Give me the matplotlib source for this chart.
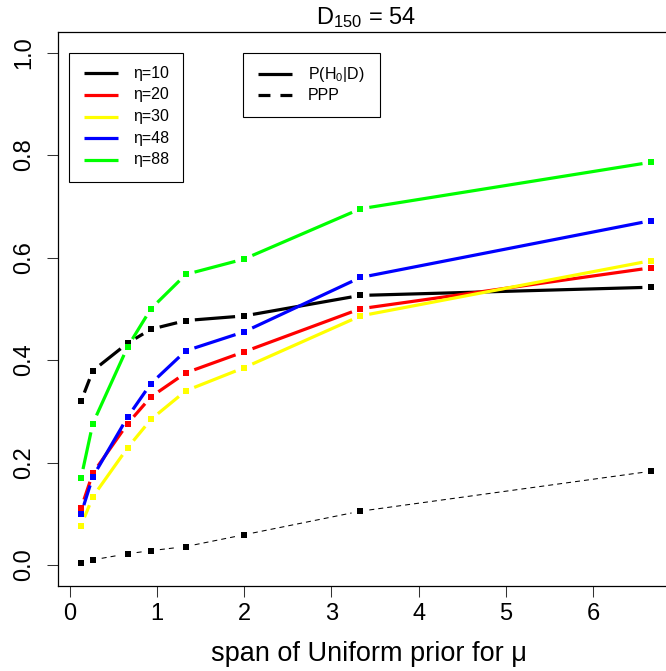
import matplotlib
matplotlib.use("Agg")
import matplotlib.pyplot as plt
from matplotlib.lines import Line2D
from matplotlib.patches import Rectangle
import numpy as np

plt.rcParams['font.family'] = ['Liberation Sans', 'DejaVu Sans']
plt.rcParams['mathtext.fontset'] = 'custom'
plt.rcParams['mathtext.rm'] = 'Liberation Sans'
plt.rcParams['mathtext.it'] = 'Liberation Sans:italic'
plt.rcParams['lines.scale_dashes'] = False

# ---- data ----
span = [0.133, 0.267, 0.667, 0.933, 1.333, 2.0, 3.333, 6.667]
eta_labels = ["η=10", "η=20", "η=30", "η=48", "η=88"]
eta_colors = ["#000000", "#FF0000", "#FFFF00", "#0000FF", "#00FF00"]
p_eta10 = [0.320, 0.379, 0.433, 0.460, 0.477, 0.486, 0.526, 0.542]
p_eta20 = [0.111, 0.179, 0.276, 0.328, 0.375, 0.416, 0.500, 0.580]
p_eta30 = [0.077, 0.133, 0.229, 0.284, 0.340, 0.385, 0.486, 0.594]
p_eta48 = [0.100, 0.172, 0.289, 0.354, 0.418, 0.455, 0.561, 0.672]
p_eta88 = [0.170, 0.276, 0.426, 0.500, 0.567, 0.597, 0.695, 0.786]
ppp = [0.0045, 0.010, 0.022, 0.028, 0.036, 0.059, 0.105, 0.183]
x_ticks = [0, 1, 2, 3, 4, 5, 6]
y_ticks = [0.0, 0.2, 0.4, 0.6, 0.8, 1.0]
title_text = "D$_{150}$ = 54"
xlabel_text = "span of Uniform prior for μ"
legend2_labels = ["P(H$_0$|D)", "PPP"]

W, H = 666, 671
fig = plt.figure(figsize=(W / 100, H / 100), dpi=100)

def fx(px):
    return px / W

def fy(py):
    return 1 - py / H

L, R, T, B = 58.3, 674.2, 32.0, 585.5
ax = fig.add_axes([fx(L), fy(B), (R - L) / W, (B - T) / H])

xr = max(span) - min(span)
ax.set_xlim(min(span) - 0.04 * xr, max(span) + 0.04 * xr)
ax.set_ylim(-0.04, 1.04)

def gapped_line(xs, ys, color, lw, dashes=None, gap=9.0, ms=4.3):
    pts = ax.transData.transform(np.column_stack([xs, ys]))
    inv = ax.transData.inverted()
    for i in range(len(pts) - 1):
        p0, p1 = pts[i], pts[i + 1]
        d = p1 - p0
        n = np.hypot(*d)
        if n <= 2 * gap:
            continue
        u = d / n
        a = inv.transform(p0 + u * gap)
        b = inv.transform(p1 - u * gap)
        ln = Line2D([a[0], b[0]], [a[1], b[1]], color=color, lw=lw,
                    solid_capstyle='butt', dash_capstyle='butt')
        if dashes is not None:
            ln.set_dashes(dashes)
        ax.add_line(ln)
    ax.plot(xs, ys, linestyle='none', marker='s', ms=ms, color=color,
            markeredgewidth=0)

series = [p_eta10, p_eta20, p_eta30, p_eta48, p_eta88]
for vals, col in zip(series, eta_colors):
    gapped_line(span, vals, col, 2.3)
gapped_line(span, ppp, "#000000", 0.75, dashes=(3.6, 2.9))

ax.set_xticks(x_ticks)
ax.set_xticklabels([str(t) for t in x_ticks])
ax.set_yticks(y_ticks)
ax.set_yticklabels([f"{t:.1f}" for t in y_ticks], rotation=90, va='center')
ax.tick_params(axis='both', labelsize=17, length=7.7, width=0.75, color='#333333')
ax.tick_params(axis='x', pad=5)
ax.tick_params(axis='y', pad=9)
for s in ax.spines.values():
    s.set_linewidth(0.9)

ax.text(0.5, 1.0 + 8.0 / (B - T), title_text, transform=ax.transAxes,
        ha='center', va='baseline', fontsize=17)
fig.text(fx(369), fy(654), xlabel_text, ha='center', va='center', fontsize=19.5)

# legend 1
fig.add_artist(Rectangle((fx(69), fy(181.7)), (182.7 - 69) / W, (181.7 - 52.7) / H,
                         transform=fig.transFigure, fill=False, lw=0.8, ec='black'))
rows1 = [73.3, 95.0, 116.6, 138.2, 159.8]
for lab, col, ry in zip(eta_labels, eta_colors, rows1):
    fig.add_artist(Line2D([fx(84.3), fx(118.3)], [fy(ry), fy(ry)], color=col, lw=2.3,
                          transform=fig.transFigure, solid_capstyle='butt'))
    fig.text(fx(132.7), fy(ry), lab, ha='left', va='center', fontsize=11.5)

# legend 2
fig.add_artist(Rectangle((fx(243.3), fy(117.3)), (380 - 243.3) / W, (117.3 - 52.7) / H,
                         transform=fig.transFigure, fill=False, lw=0.8, ec='black'))
rows2 = [74.0, 95.3]
l1 = Line2D([fx(258), fx(292)], [fy(rows2[0])] * 2, color='black', lw=2.3,
            transform=fig.transFigure, solid_capstyle='butt')
l2 = Line2D([fx(258), fx(292)], [fy(rows2[1])] * 2, color='black', lw=2.3,
            transform=fig.transFigure, dash_capstyle='butt')
l2.set_dashes((8.6, 7.2))
fig.add_artist(l1)
fig.add_artist(l2)
for lab, ry in zip(legend2_labels, rows2):
    fig.text(fx(308), fy(ry), lab, ha='left', va='center', fontsize=11.5)

fig.savefig("out.png", dpi=100)
